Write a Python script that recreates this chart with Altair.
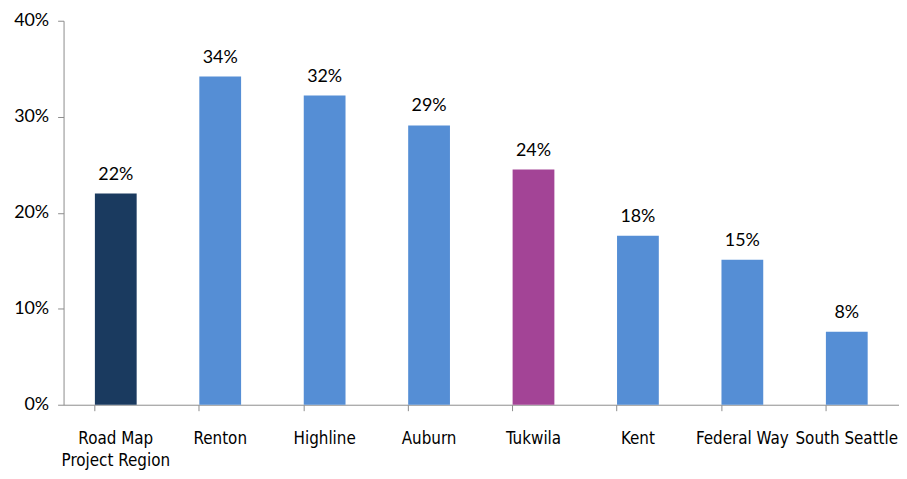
import altair as alt
import pandas as pd

categories = ["Road Map Project Region", "Renton", "Highline", "Auburn",
              "Tukwila", "Kent", "Federal Way", "South Seattle"]
values = [0.220, 0.342, 0.322, 0.291, 0.245, 0.176, 0.151, 0.076]
labels = ["22%", "34%", "32%", "29%", "24%", "18%", "15%", "8%"]
groups = ["region", "district", "district", "district", "tukwila",
          "district", "district", "district"]

df = pd.DataFrame({"cat": categories, "val": values, "lab": labels, "grp": groups})

x = alt.X("cat:N", sort=categories, title=None,
          scale=alt.Scale(paddingInner=0.6, paddingOuter=0.3),
          axis=alt.Axis(labelAngle=0, labelFont="DejaVu Sans Condensed",
                        labelFontSize=17, labelColor="#000", labelPadding=20,
                        labelExpr="datum.label == 'Road Map Project Region' ? ['Road Map', 'Project Region'] : datum.label",
                        labelLineHeight=22,
                        domainColor="#8c8c8c", tickColor="#8c8c8c", tickSize=6,
                        bandPosition=0, grid=False))

bars = alt.Chart(df).mark_bar().encode(
    x=x,
    y=alt.Y("val:Q", title=None,
            scale=alt.Scale(domain=[0, 0.4]),
            axis=alt.Axis(values=[0, 0.1, 0.2, 0.3, 0.4], format=".0%",
                          labelFont="Lato", labelFontSize=18, labelColor="#000",
                          domainColor="#8c8c8c", tickColor="#8c8c8c", tickSize=6,
                          labelPadding=9, grid=False)),
    color=alt.Color("grp:N", legend=None,
                    scale=alt.Scale(domain=["region", "district", "tukwila"],
                                    range=["#1A3A5F", "#558ED5", "#A34496"])),
)

text = alt.Chart(df).mark_text(dy=-19, font="Lato", fontSize=18, color="#000").encode(
    x=alt.X("cat:N", sort=categories),
    y="val:Q",
    text="lab:N",
)

chart = (bars + text).properties(
    width=842, height=387,
    autosize=alt.AutoSizeParams(type="none"),
    padding={"left": 56, "top": 11, "right": 0, "bottom": 72},
).configure_view(stroke=None)

chart.save("out.html", embed_options={"renderer": "svg", "actions": False})
